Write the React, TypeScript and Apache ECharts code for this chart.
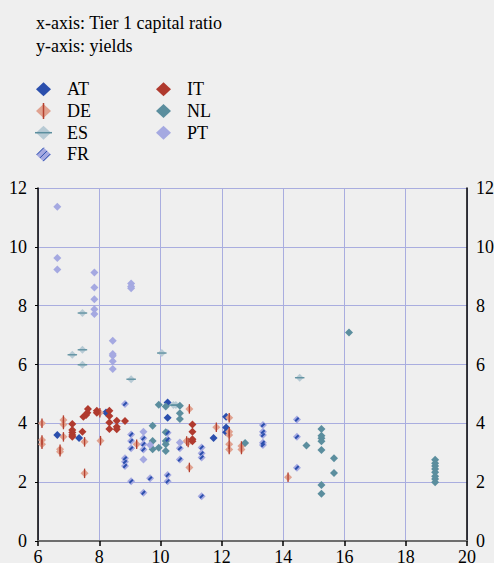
import React, { useEffect, useRef } from 'react';
import * as echarts from 'echarts';

const FONT = 'Liberation Serif';

const headerLines = ['x-axis: Tier 1 capital ratio', 'y-axis: yields'];
const legendCol1 = ['AT', 'DE', 'ES', 'FR'];
const legendCol2 = ['IT', 'NL', 'PT'];
const xRange = [6, 20, 2];
const yRange = [0, 12, 2];

const AT = [[6.63,3.6],[7.34,3.5],[8.22,4.37],[10.23,4.71],[10.23,4.19],[11.73,3.5],[12.14,4.22],[12.14,3.86],[12.14,3.7]];
const DE = [[6.13,4.0],[6.13,3.43],[6.13,3.29],[6.83,4.11],[6.83,3.96],[6.83,3.54],[6.72,3.12],[6.72,3.03],[7.52,3.37],[7.52,2.3],[8.02,4.36],[8.04,3.41],[9.22,3.29],[10.94,4.49],[10.94,2.5],[10.85,3.4],[10.9,3.35],[11.82,3.87],[12.24,4.19],[12.24,3.71],[12.24,3.6],[12.24,3.29],[12.24,3.11],[12.64,3.23],[12.64,3.11],[14.16,2.17]];
const ES = [[7.12,6.33],[7.45,6.5],[7.45,7.75],[7.45,5.99],[10.04,6.39],[9.04,5.5],[10.42,4.62],[10.5,4.62],[14.54,5.55]];
const FR = [[8.84,4.66],[9.04,3.62],[9.04,3.4],[9.04,3.15],[8.84,2.81],[8.84,2.69],[8.84,2.55],[9.04,2.03],[9.44,3.49],[9.44,3.29],[9.44,3.11],[9.66,2.13],[10.23,3.68],[10.23,3.45],[10.23,2.24],[10.23,2.03],[10.63,3.15],[10.63,2.77],[11.34,3.18],[11.34,2.98],[11.34,2.84],[11.34,1.52],[9.44,1.64],[13.34,3.94],[13.34,3.71],[13.34,3.6],[13.34,3.34],[13.34,3.26],[14.45,4.13],[14.45,3.54],[14.45,2.49]];
const IT = [[7.12,3.98],[7.12,3.77],[7.12,3.69],[7.12,3.6],[7.12,3.54],[7.45,3.71],[7.48,4.22],[7.57,4.28],[7.61,4.36],[7.63,4.49],[7.92,4.43],[7.92,4.36],[8.33,4.43],[8.33,4.25],[8.33,4.03],[8.33,3.81],[8.57,4.09],[8.57,3.88],[8.57,3.8],[8.84,4.08],[11.04,3.96],[11.04,3.71],[11.04,3.46],[11.04,3.39]];
const NL = [[9.94,4.63],[10.17,4.57],[10.63,4.6],[10.63,4.34],[10.63,4.15],[9.74,3.92],[9.74,3.4],[9.74,3.12],[9.94,3.17],[10.17,3.7],[10.17,3.4],[10.17,3.29],[10.17,3.06],[12.76,3.33],[16.15,7.09],[14.76,3.25],[15.25,3.81],[15.25,3.58],[15.25,3.49],[15.25,3.39],[15.25,3.09],[15.66,2.81],[15.66,2.31],[15.25,1.9],[15.25,1.61],[18.96,2.76],[18.96,2.64],[18.96,2.55],[18.96,2.45],[18.96,2.34],[18.96,2.2],[18.96,2.11],[18.96,2.0]];
const PT = [[6.63,11.36],[6.63,9.62],[6.63,9.23],[7.84,9.13],[7.84,8.62],[7.84,8.22],[7.84,7.88],[7.84,7.72],[9.04,8.75],[9.04,8.65],[9.04,8.59],[8.44,6.81],[8.44,6.36],[8.44,6.3],[8.44,6.11],[8.44,5.85],[9.44,3.71],[9.66,3.26],[10.63,3.35],[9.44,2.77]];

const C = {
  AT: '#2b4fad', IT: '#b03a2e', DE: '#e0a290', DEline: '#b5402f',
  NL: '#5b8e9e', ES: '#b7cad4', ESline: '#5b8e9e', PT: '#a5a9e1', FR: '#a5a9e1', FRline: '#2b4fad',
};

const SYM = 8;
const ROW = [89.3, 111, 132.7, 154.4];

export default function App() {
  const ref = useRef<HTMLDivElement>(null);
  useEffect(() => {
    if (!ref.current) return;
    const chart = echarts.init(ref.current, null, { renderer: 'svg' });
    const base = (name: string, data: number[][], color: string, z = 2) => ({
      name, type: 'scatter', data, symbol: 'diamond', symbolSize: SYM, z,
      itemStyle: { color, opacity: 1 }, emphasis: { disabled: true },
    });
    const overlay = (name: string, data: number[][], color: string, path: string, size: number[]) => ({
      name, type: 'scatter', data, symbol: path, symbolSize: size, z: 3, silent: true,
      itemStyle: { color, opacity: 1 }, emphasis: { disabled: true },
    });
    const legendCommon = {
      orient: 'vertical', top: 80.3, itemWidth: 15, itemHeight: 14, itemGap: 3.7, icon: 'diamond', padding: 0,
      selectedMode: false,
      textStyle: { fontFamily: FONT, fontSize: 18, color: '#000', padding: [0, 0, 0, 11] },
    };
    const lineStyle = (stroke: string) => ({ stroke, lineWidth: 1.5 });
    const option: any = {
      animation: false,
      backgroundColor: '#efefef',
      textStyle: { fontFamily: FONT },
      grid: { left: 38, right: 27, top: 188, bottom: 22, containLabel: false, outerBoundsMode: 'none' },
      legend: [
        { ...legendCommon, left: 36, data: legendCol1 },
        { ...legendCommon, left: 156, data: legendCol2 },
      ],
      graphic: [
        ...headerLines.map((t, i) => ({
          type: 'text', left: 36, top: 14 + i * 23,
          style: { text: t, fontFamily: FONT, fontSize: 18, fill: '#000' },
        })),
        { type: 'line', shape: { x1: 43.5, y1: ROW[1] - 8, x2: 43.5, y2: ROW[1] + 8 }, style: lineStyle(C.DEline), z: 100 },
        { type: 'line', shape: { x1: 35, y1: ROW[2], x2: 52, y2: ROW[2] }, style: lineStyle(C.ESline), z: 100 },
        ...[-3.2, 0, 3.2].map((d) => ({
          type: 'line', shape: { x1: 40 + d, y1: ROW[3] + 3.5 + d, x2: 47 + d, y2: ROW[3] - 3.5 + d },
          style: { stroke: C.FRline, lineWidth: 1 }, z: 100,
        })),
      ],
      xAxis: {
        type: 'value', min: xRange[0], max: xRange[1], interval: xRange[2],
        axisLine: { show: true, lineStyle: { color: '#6e6e6e', width: 2 } },
        axisTick: { show: true, length: 5, lineStyle: { color: '#000', width: 1.5 } },
        axisLabel: { fontFamily: FONT, fontSize: 18, color: '#000', margin: 7 },
        splitLine: { show: true, lineStyle: { color: '#a9addf', width: 1 } },
      },
      yAxis: [
        {
          type: 'value', position: 'left', min: yRange[0], max: yRange[1], interval: yRange[2],
          axisLine: { show: true, lineStyle: { color: '#000', width: 1.5 } },
          axisTick: { show: true, length: 3, lineStyle: { color: '#000', width: 1 } },
          axisLabel: { fontFamily: FONT, fontSize: 18, color: '#000', margin: 11 },
          splitLine: { show: true, lineStyle: { color: '#a9addf', width: 1 } },
        },
        {
          type: 'value', position: 'right', min: yRange[0], max: yRange[1], interval: yRange[2],
          axisLine: { show: true, lineStyle: { color: '#000', width: 1.5 } },
          axisTick: { show: false },
          axisLabel: { fontFamily: FONT, fontSize: 18, color: '#000', margin: 9 },
          splitLine: { show: false },
        },
      ],
      series: [
        base('AT', AT, C.AT),
        base('DE', DE, C.DE),
        overlay('DE_mark', DE, C.DEline, 'path://M0,0H1V10H0Z', [1.3, 9.5]),
        base('ES', ES, C.ES),
        overlay('ES_mark', ES, C.ESline, 'path://M0,0H10V1H0Z', [9.5, 1.3]),
        base('FR', FR, C.FR),
        overlay('FR_mark', FR, C.FRline, 'path://M0,7L7,0L10,3L3,10Z', [4.8, 4.8]),
        base('IT', IT, C.IT),
        base('NL', NL, C.NL),
        base('PT', PT, C.PT),
      ],
    };
    chart.setOption(option);
    return () => chart.dispose();
  }, []);
  return <div ref={ref} style={{ position: 'absolute', left: 0, top: 0, width: 494, height: 563, background: '#efefef' }} />;
}
